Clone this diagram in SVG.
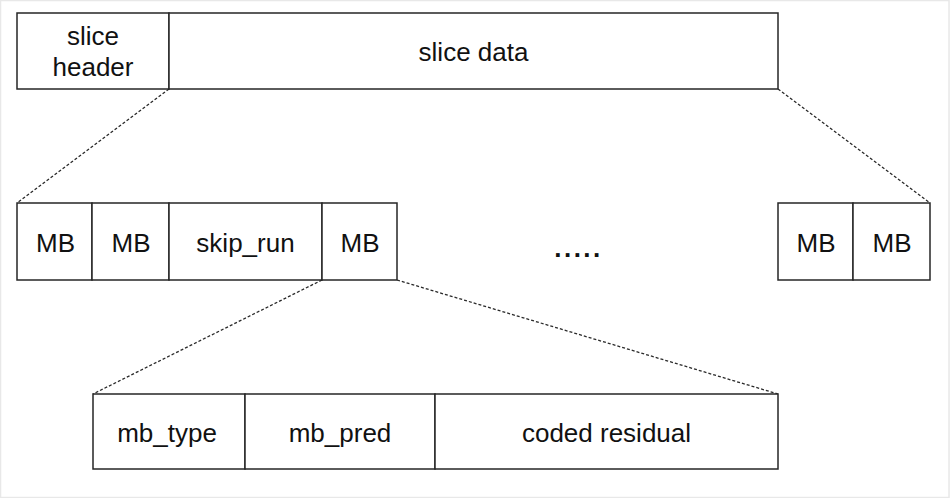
<svg xmlns="http://www.w3.org/2000/svg" width="950" height="498" viewBox="0 0 950 498">
  <style>
    .box { fill: #ffffff; stroke: #262626; stroke-width: 1.5; }
    .lbl { font-family: "Liberation Sans", Arial, Helvetica, sans-serif; font-size: 26px; fill: #111111; text-anchor: middle; }
    .dash { stroke: #2a2a2a; stroke-width: 1.3; stroke-dasharray: 3 2; fill: none; }
  </style>

  <!-- page background with thin frame -->
  <rect x="0" y="0" width="950" height="498" fill="#ffffff"/>
  <rect x="0.5" y="0.5" width="948.5" height="497" fill="none" stroke="#e8e8e8" stroke-width="1.5"/>

  <!-- connectors: dashed expansion lines between levels -->
  <g id="connectors">
    <line class="dash" x1="169" y1="89" x2="17" y2="203"/>
    <line class="dash" x1="778" y1="89" x2="930" y2="203"/>
    <line class="dash" x1="322" y1="280" x2="93" y2="394"/>
    <line class="dash" x1="397" y1="280" x2="778" y2="394"/>
  </g>

  <!-- slice level -->
  <g id="slice-header">
    <rect class="box" x="17" y="13" width="152" height="76"/>
    <text class="lbl" x="93" y="45">slice</text>
    <text class="lbl" x="93" y="76">header</text>
  </g>
  <g id="slice-data">
    <rect class="box" x="169" y="13" width="609" height="76"/>
    <text class="lbl" x="473.5" y="61">slice data</text>
  </g>

  <!-- macroblock level -->
  <g id="mb-1">
    <rect class="box" x="17" y="203" width="75" height="77"/>
    <text class="lbl" x="55.5" y="252">MB</text>
  </g>
  <g id="mb-2">
    <rect class="box" x="92" y="203" width="77" height="77"/>
    <text class="lbl" x="131" y="252">MB</text>
  </g>
  <g id="skip-run">
    <rect class="box" x="169" y="203" width="153" height="77"/>
    <text class="lbl" x="245.5" y="252">skip_run</text>
  </g>
  <g id="mb-3">
    <rect class="box" x="322" y="203" width="75" height="77"/>
    <text class="lbl" x="360" y="252">MB</text>
  </g>
  <g id="ellipsis">
    <text class="lbl" x="578.5" y="257" style="letter-spacing:2.5px;font-weight:bold">.....</text>
  </g>
  <g id="mb-n1">
    <rect class="box" x="778" y="203" width="75" height="77"/>
    <text class="lbl" x="816" y="252">MB</text>
  </g>
  <g id="mb-n">
    <rect class="box" x="853" y="203" width="77" height="77"/>
    <text class="lbl" x="892" y="252">MB</text>
  </g>

  <!-- macroblock syntax level -->
  <g id="mb-type">
    <rect class="box" x="93" y="394" width="152" height="75"/>
    <text class="lbl" x="167" y="442">mb_type</text>
  </g>
  <g id="mb-pred">
    <rect class="box" x="245" y="394" width="190" height="75"/>
    <text class="lbl" x="340" y="442">mb_pred</text>
  </g>
  <g id="coded-residual">
    <rect class="box" x="435" y="394" width="343" height="75"/>
    <text class="lbl" x="606.5" y="442">coded residual</text>
  </g>
</svg>
